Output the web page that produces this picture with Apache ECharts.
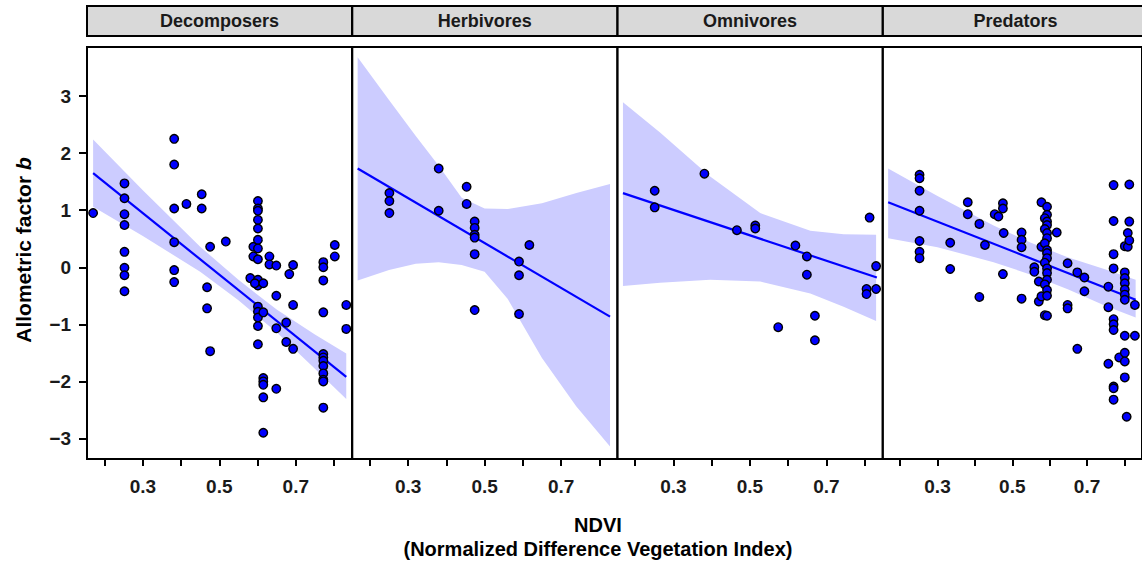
<!DOCTYPE html>
<html><head><meta charset="utf-8">
<script src="https://cdn.jsdelivr.net/npm/echarts@6/dist/echarts.min.js"></script>
<style>html,body{margin:0;padding:0;background:#fff}#chart{width:1142px;height:566px}</style>
</head><body><div id="chart"></div>
<script>
// ---------- data ----------
const panelNames = ['Decomposers', 'Herbivores', 'Omnivores', 'Predators'];
const xTickValues = [0.2, 0.3, 0.4, 0.5, 0.6, 0.7, 0.8];
const xLabelValues = [0.3, 0.5, 0.7];
const yTickValues = [-3, -2, -1, 0, 1, 2, 3];

const decomposersPts = [
  [0.170,0.95],
  [0.252,1.47],[0.252,1.21],[0.252,0.93],[0.252,0.74],[0.252,0.27],[0.252,-0.01],[0.252,-0.14],[0.252,-0.42],
  [0.382,2.25],[0.382,1.80],[0.382,1.03],[0.382,0.44],[0.382,-0.05],[0.382,-0.26],
  [0.414,1.11],[0.454,1.28],[0.454,1.03],[0.476,0.36],
  [0.468,-0.35],[0.468,-0.72],[0.476,-1.47],[0.517,0.45],
  [0.581,-0.19],[0.589,0.36],[0.589,0.19],
  [0.601,1.16],[0.601,1.03],[0.601,0.99],[0.601,0.83],[0.601,0.68],[0.601,0.48],[0.601,0.33],[0.601,0.14],
  [0.601,-0.22],[0.601,-0.32],[0.601,-0.69],[0.601,-0.78],[0.601,-0.88],[0.601,-1.03],[0.601,-1.35],
  [0.593,-0.28],
  [0.615,-0.28],[0.615,-0.79],[0.615,-1.94],[0.615,-2.00],[0.615,-2.06],[0.615,-2.28],[0.615,-2.90],
  [0.631,0.19],[0.631,0.05],
  [0.649,0.03],[0.649,-0.50],[0.649,-1.07],[0.649,-2.13],
  [0.675,-0.97],[0.675,-1.31],[0.683,-0.12],
  [0.693,0.04],[0.693,-0.66],[0.693,-1.43],
  [0.772,0.09],[0.772,0.00],[0.772,-0.23],[0.772,-0.79],[0.772,-1.52],[0.772,-1.58],[0.772,-1.64],
  [0.772,-1.73],[0.772,-1.86],[0.772,-1.97],[0.772,-2.00],[0.772,-2.46],
  [0.802,0.39],[0.802,0.19],[0.832,-0.66],[0.832,-1.08]
];
const herbivoresPts = [
  [0.251,1.30],[0.251,1.16],[0.251,0.95],
  [0.380,1.73],[0.380,0.99],
  [0.453,1.41],[0.453,1.11],
  [0.474,0.80],[0.474,0.69],[0.474,0.57],[0.474,0.52],[0.474,0.23],[0.474,-0.75],
  [0.590,0.10],[0.590,-0.14],[0.590,-0.82],
  [0.617,0.39]
];
const omnivoresPts = [
  [0.251,1.34],[0.251,1.05],[0.381,1.64],[0.466,0.65],
  [0.514,0.73],[0.514,0.68],[0.574,-1.05],[0.619,0.38],
  [0.649,0.19],[0.649,-0.13],[0.670,-0.85],[0.670,-1.28],
  [0.813,0.87],[0.805,-0.38],[0.805,-0.47],[0.830,0.02],[0.830,-0.38]
];
const predatorsPts = [
  [0.252,1.62],[0.252,1.56],[0.252,1.34],[0.252,0.99],[0.252,0.46],[0.252,0.27],[0.252,0.16],
  [0.334,0.43],[0.334,-0.03],[0.381,1.14],[0.381,0.93],
  [0.412,0.76],[0.412,-0.52],[0.427,0.39],
  [0.453,0.93],[0.463,0.89],[0.475,1.12],[0.475,1.03],[0.475,-0.12],[0.477,0.60],
  [0.525,0.61],[0.525,0.48],[0.525,0.35],[0.525,-0.55],
  [0.559,0.00],[0.559,-0.08],[0.571,-0.25],[0.571,-0.60],
  [0.578,1.14],[0.578,0.36],[0.578,-0.51],
  [0.593,1.06],[0.593,0.92],[0.587,0.86],[0.593,0.80],[0.593,0.74],[0.587,0.67],[0.593,0.60],[0.593,0.51],
  [0.587,0.42],[0.593,0.30],[0.593,0.25],[0.593,0.16],[0.587,0.08],[0.593,-0.02],[0.593,-0.10],
  [0.593,-0.22],[0.587,-0.30],[0.593,-0.40],[0.593,-0.50],[0.587,-0.84],[0.593,-0.85],
  [0.619,0.61],
  [0.648,0.07],[0.648,-0.66],[0.648,-0.72],
  [0.674,-0.09],[0.674,-1.43],[0.693,-0.18],[0.693,-0.42],
  [0.757,-0.34],[0.757,-0.70],[0.757,-1.69],
  [0.771,1.44],[0.771,0.81],[0.771,0.23],[0.771,-0.02],[0.771,-0.91],[0.771,-1.00],[0.771,-1.10],
  [0.771,-2.09],[0.771,-2.12],[0.771,-2.32],
  [0.786,-1.58],
  [0.801,0.37],[0.801,-0.09],[0.801,-0.19],[0.801,-0.28],[0.801,-0.39],[0.801,-0.48],[0.801,-0.57],
  [0.801,-1.20],[0.801,-1.50],[0.801,-1.65],[0.801,-1.93],
  [0.806,-2.62],[0.809,0.60],[0.809,0.36],
  [0.813,1.45],[0.813,0.80],[0.813,0.47],
  [0.828,-0.66],[0.828,-1.20]
];

const decomposersFit = [[0.170,1.65],[0.832,-1.92]];
const herbivoresFit  = [[0.168,1.73],[0.828,-0.865]];
const omnivoresFit   = [[0.168,1.30],[0.832,-0.18]];
const predatorsFit   = [[0.168,1.14],[0.830,-0.57]];

const decomposersBandX     = [0.170, 0.30, 0.45, 0.55, 0.65, 0.75, 0.832];
const decomposersBandUpper = [2.24, 1.35, 0.36, -0.22, -0.74, -1.18, -1.51];
const decomposersBandLower = [1.06, 0.55, -0.08, -0.58, -1.14, -1.78, -2.31];

const herbivoresBandX     = [0.168, 0.25, 0.32, 0.38, 0.44, 0.50, 0.56, 0.65, 0.74, 0.828];
const herbivoresBandUpper = [3.68, 2.93, 2.30, 1.78, 1.22, 1.03, 1.02, 1.12, 1.30, 1.46];
const herbivoresBandLower = [-0.23, -0.05, 0.06, 0.09, 0.04, -0.08, -0.55, -1.59, -2.44, -3.14];

const omnivoresBandX     = [0.168, 0.265, 0.396, 0.527, 0.658, 0.745, 0.830];
const omnivoresBandUpper = [2.89, 2.36, 1.59, 0.95, 0.64, 0.58, 0.57];
const omnivoresBandLower = [-0.33, -0.27, -0.22, -0.25, -0.46, -0.69, -0.94];

const predatorsBandX     = [0.168, 0.30, 0.45, 0.55, 0.65, 0.75, 0.830];
const predatorsBandUpper = [1.73, 1.25, 0.73, 0.43, 0.17, -0.04, -0.22];
const predatorsBandLower = [0.51, 0.35, 0.09, -0.13, -0.39, -0.68, -0.88];

// ---------- layout / style ----------
const FONT = '"Liberation Sans", Arial, sans-serif';
const gridLefts = [87, 352.3, 617.6, 882.9];
const gridW = 265, gridTop = 47, gridH = 412;
const X_MIN = 0.154, X_MAX = 0.847, Y_MIN = -3.36, Y_MAX = 3.86;

const allPts = [decomposersPts, herbivoresPts, omnivoresPts, predatorsPts];
const allFits = [decomposersFit, herbivoresFit, omnivoresFit, predatorsFit];
const allBands = [
  [decomposersBandX, decomposersBandLower, decomposersBandUpper],
  [herbivoresBandX, herbivoresBandLower, herbivoresBandUpper],
  [omnivoresBandX, omnivoresBandLower, omnivoresBandUpper],
  [predatorsBandX, predatorsBandLower, predatorsBandUpper]
];

const fmt = v => (v < 0 ? '\u2212' + Math.abs(v) : String(v));

const grids = [], xAxes = [], yAxes = [], series = [], graphics = [];
panelNames.forEach((name, i) => {
  grids.push({left: gridLefts[i], top: gridTop, width: gridW, height: gridH,
    show: true, backgroundColor: '#fff', borderColor: '#000', borderWidth: 2});
  xAxes.push({type: 'value', gridIndex: i, min: X_MIN, max: X_MAX,
    axisLine: {show: true, onZero: false, lineStyle: {color: '#000', width: 2}},
    axisTick: {show: true, length: 7, customValues: xTickValues, lineStyle: {color: '#000', width: 2}},
    axisLabel: {show: true, customValues: xLabelValues, margin: 18,
      formatter: v => v.toFixed(1), color: '#1a1a1a', fontSize: 19, fontWeight: 'bold', fontFamily: FONT},
    splitLine: {show: false}});
  yAxes.push({type: 'value', gridIndex: i, min: Y_MIN, max: Y_MAX,
    axisLine: {show: i === 0, lineStyle: {color: '#000', width: 2}},
    axisTick: {show: i === 0, length: 8, customValues: yTickValues, lineStyle: {color: '#000', width: 2}},
    axisLabel: {show: i === 0, customValues: yTickValues, margin: 16, formatter: fmt,
      color: '#1a1a1a', fontSize: 19, fontWeight: 'bold', fontFamily: FONT},
    splitLine: {show: false}});

  const [bx, blo, bhi] = allBands[i];
  const rows = bx.map((x, k) => [x, blo[k], bhi[k]]);
  series.push({type: 'custom', xAxisIndex: i, yAxisIndex: i, silent: true, z: 1,
    data: rows, encode: {x: 0, y: [1, 2]},
    renderItem: (params, api) => {
      if (params.dataIndex !== 0) return null;
      const top = rows.map(r => api.coord([r[0], r[2]]));
      const bot = rows.map(r => api.coord([r[0], r[1]])).reverse();
      return {type: 'polygon', shape: {points: top.concat(bot)}, style: {fill: '#ccccff'}};
    }});
  series.push({type: 'line', xAxisIndex: i, yAxisIndex: i, data: allFits[i], symbol: 'none',
    silent: true, z: 2, lineStyle: {color: '#0000ff', width: 2.2}});
  series.push({type: 'scatter', xAxisIndex: i, yAxisIndex: i, data: allPts[i], z: 3,
    symbol: 'circle', symbolSize: 8.5,
    itemStyle: {color: '#0000ff', borderColor: '#000', borderWidth: 1.4, opacity: 1}});

  graphics.push({type: 'rect', shape: {x: gridLefts[i], y: 6, width: gridW, height: 30},
    style: {fill: '#d9d9d9', stroke: '#000', lineWidth: 2}, z: 10});
  graphics.push({type: 'text', x: gridLefts[i] + gridW / 2, y: 21, z: 11,
    style: {text: name, align: 'center', verticalAlign: 'middle', fill: '#1a1a1a',
      fontSize: 18, fontWeight: 'bold', fontFamily: FONT}});
});

graphics.push({type: 'text', x: 598, y: 525, style: {text: 'NDVI', align: 'center', verticalAlign: 'middle',
  fill: '#000', fontSize: 20, fontWeight: 'bold', fontFamily: FONT}});
graphics.push({type: 'text', x: 598, y: 549, style: {text: '(Normalized Difference Vegetation Index)',
  align: 'center', verticalAlign: 'middle', fill: '#000', fontSize: 20, fontWeight: 'bold', fontFamily: FONT}});
graphics.push({type: 'text', x: 23, y: 250, rotation: Math.PI / 2,
  style: {text: '{n|Allometric factor }{i|b}', align: 'center', verticalAlign: 'middle',
    rich: {
      n: {fill: '#000', fontSize: 21, fontWeight: 'bold', fontFamily: FONT},
      i: {fill: '#000', fontSize: 21, fontWeight: 'bold', fontStyle: 'italic', fontFamily: FONT}
    }}});

const chart = echarts.init(document.getElementById('chart'), null, {renderer: 'svg'});
chart.setOption({
  animation: false,
  backgroundColor: '#fff',
  grid: grids, xAxis: xAxes, yAxis: yAxes, series: series, graphic: graphics
});
</script>
</body></html>
